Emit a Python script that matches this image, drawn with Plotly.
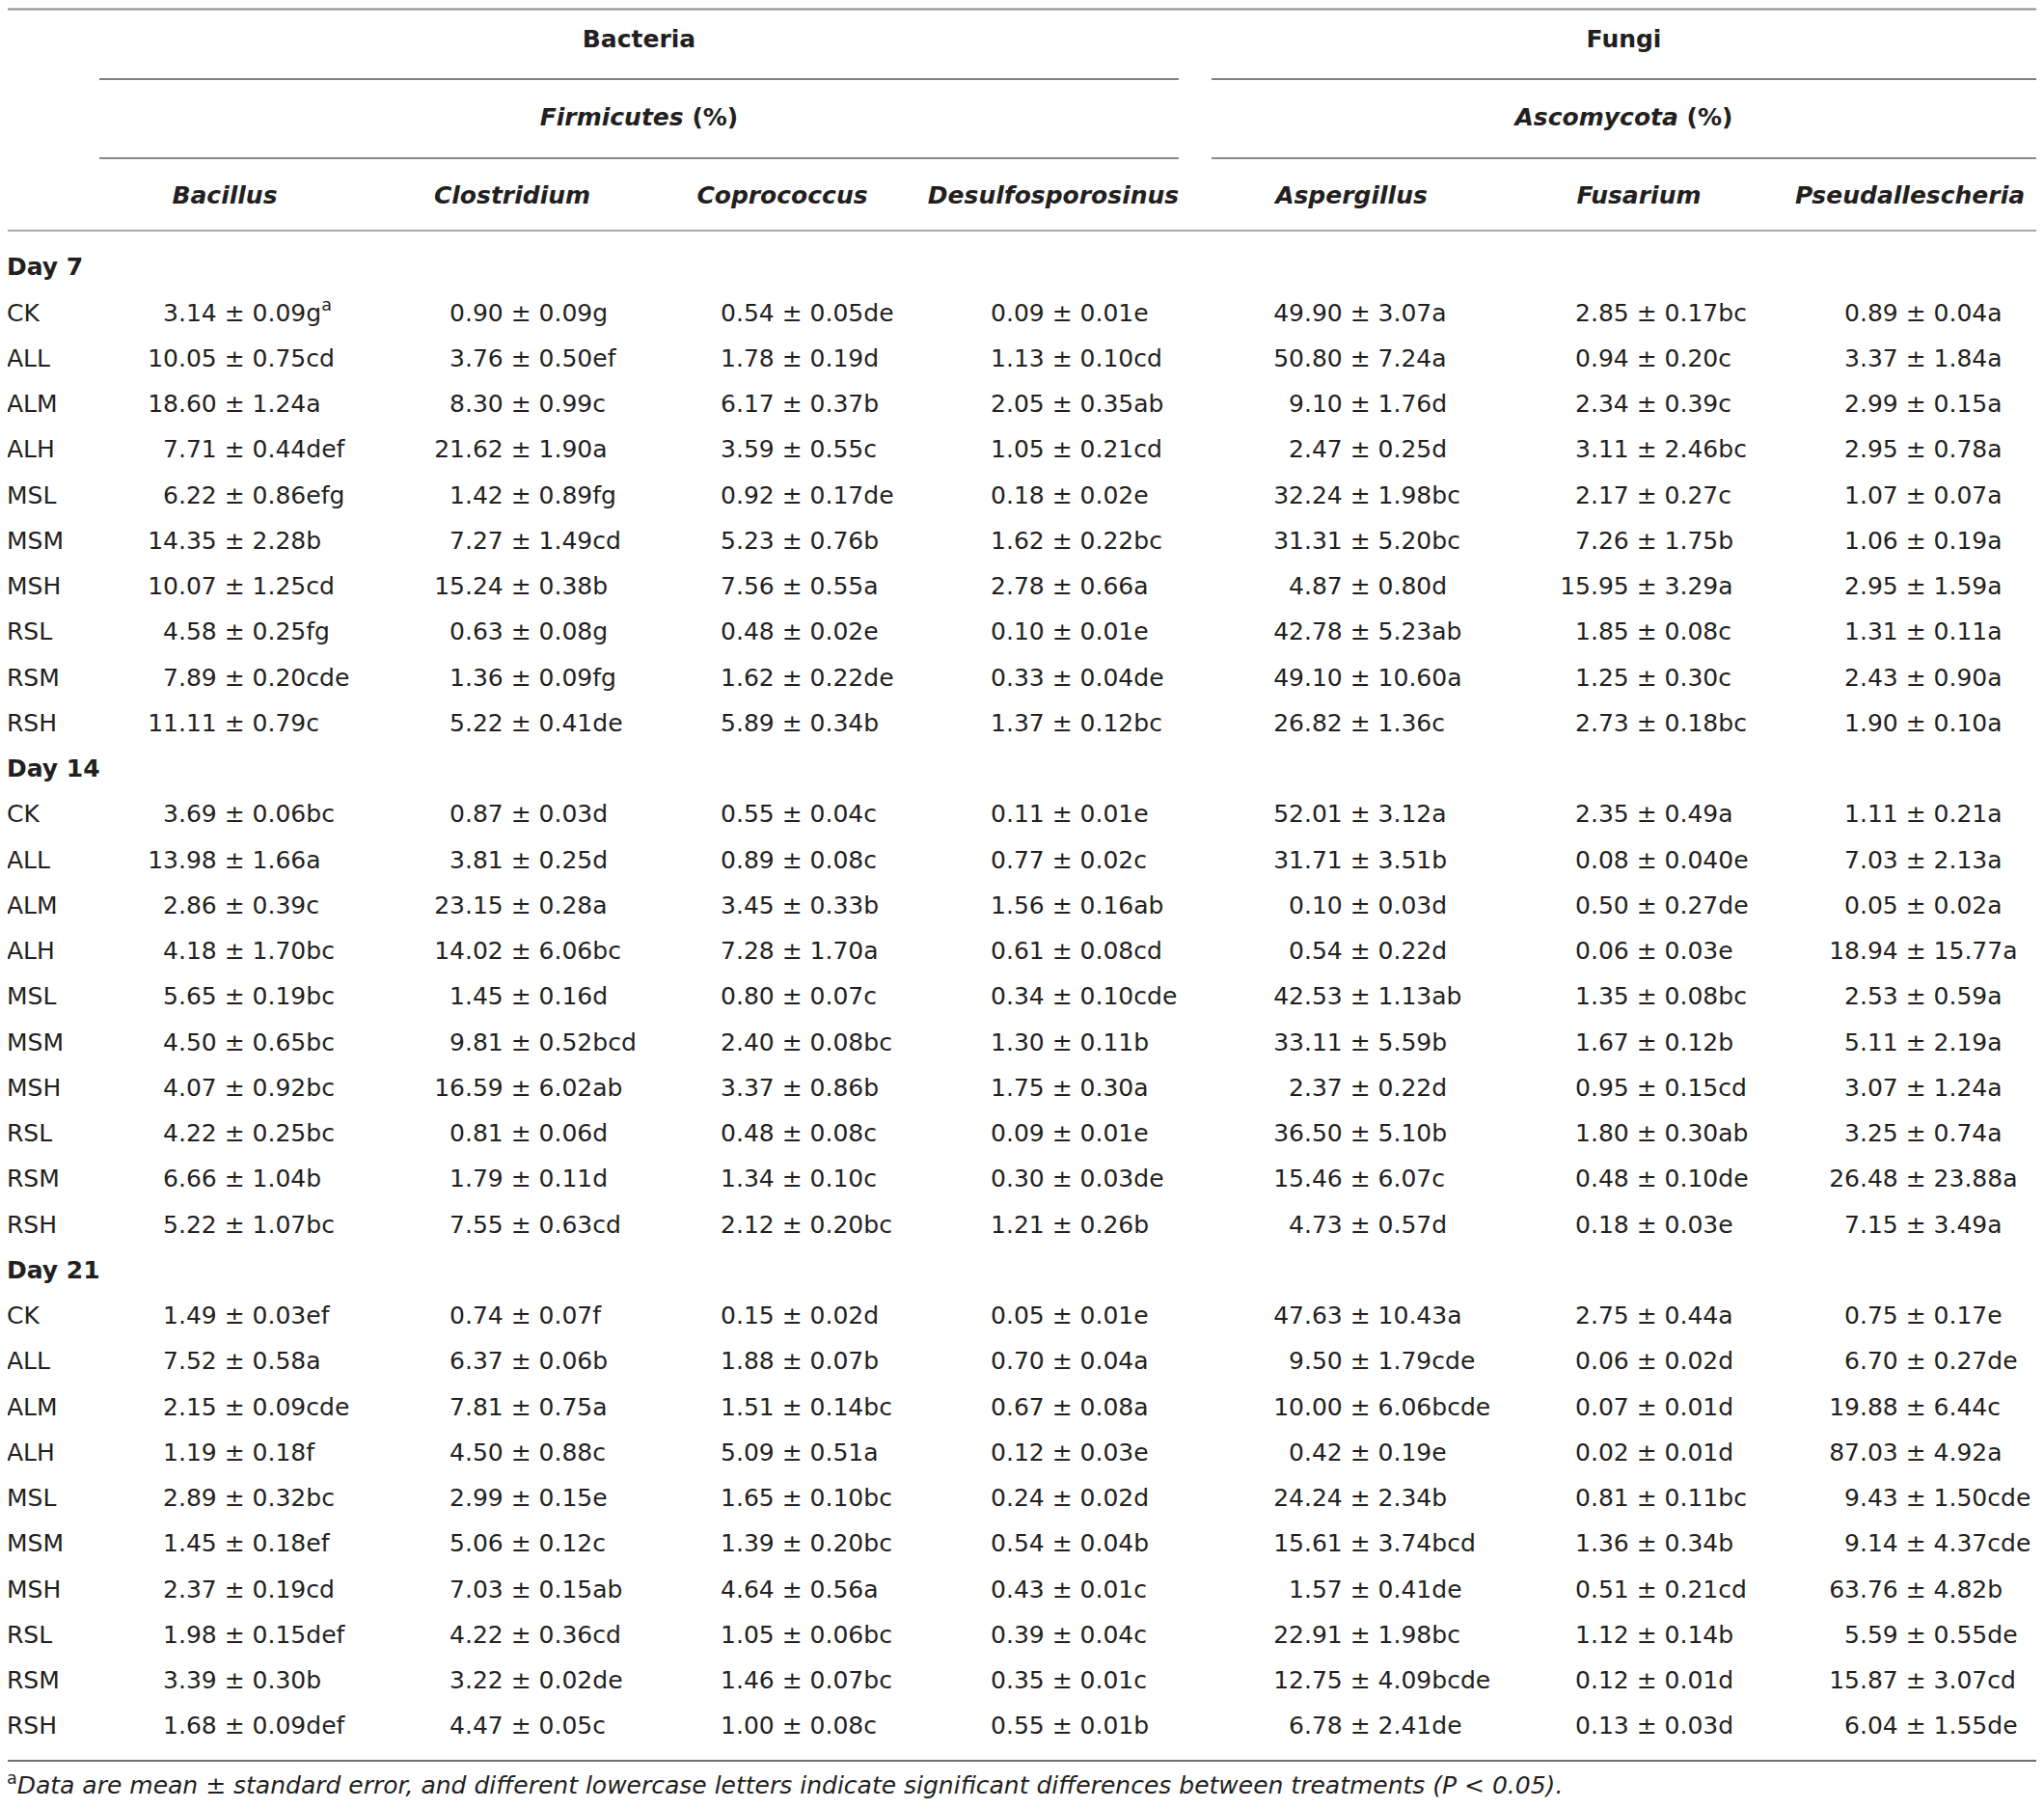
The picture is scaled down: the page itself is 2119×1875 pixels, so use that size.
import plotly.graph_objects as go

TREATMENTS = ["CK", "ALL", "ALM", "ALH", "MSL", "MSM", "MSH", "RSL", "RSM", "RSH"]
DAYS = ["Day 7", "Day 14", "Day 21"]
KINGDOMS = ["Bacteria", "Fungi"]
PHYLA = ["Firmicutes", "Ascomycota"]
GENERA = ["Bacillus", "Clostridium", "Coprococcus", "Desulfosporosinus",
          "Aspergillus", "Fusarium", "Pseudallescheria"]

# (mean, standard error, letters) for Day 7, Day 14, Day 21, ten treatments each
BACILLUS = [
    ("3.14", "0.09", "g"), ("10.05", "0.75", "cd"), ("18.60", "1.24", "a"), ("7.71", "0.44", "def"),
    ("6.22", "0.86", "efg"), ("14.35", "2.28", "b"), ("10.07", "1.25", "cd"), ("4.58", "0.25", "fg"),
    ("7.89", "0.20", "cde"), ("11.11", "0.79", "c"),
    ("3.69", "0.06", "bc"), ("13.98", "1.66", "a"), ("2.86", "0.39", "c"), ("4.18", "1.70", "bc"),
    ("5.65", "0.19", "bc"), ("4.50", "0.65", "bc"), ("4.07", "0.92", "bc"), ("4.22", "0.25", "bc"),
    ("6.66", "1.04", "b"), ("5.22", "1.07", "bc"),
    ("1.49", "0.03", "ef"), ("7.52", "0.58", "a"), ("2.15", "0.09", "cde"), ("1.19", "0.18", "f"),
    ("2.89", "0.32", "bc"), ("1.45", "0.18", "ef"), ("2.37", "0.19", "cd"), ("1.98", "0.15", "def"),
    ("3.39", "0.30", "b"), ("1.68", "0.09", "def"),
]
CLOSTRIDIUM = [
    ("0.90", "0.09", "g"), ("3.76", "0.50", "ef"), ("8.30", "0.99", "c"), ("21.62", "1.90", "a"),
    ("1.42", "0.89", "fg"), ("7.27", "1.49", "cd"), ("15.24", "0.38", "b"), ("0.63", "0.08", "g"),
    ("1.36", "0.09", "fg"), ("5.22", "0.41", "de"),
    ("0.87", "0.03", "d"), ("3.81", "0.25", "d"), ("23.15", "0.28", "a"), ("14.02", "6.06", "bc"),
    ("1.45", "0.16", "d"), ("9.81", "0.52", "bcd"), ("16.59", "6.02", "ab"), ("0.81", "0.06", "d"),
    ("1.79", "0.11", "d"), ("7.55", "0.63", "cd"),
    ("0.74", "0.07", "f"), ("6.37", "0.06", "b"), ("7.81", "0.75", "a"), ("4.50", "0.88", "c"),
    ("2.99", "0.15", "e"), ("5.06", "0.12", "c"), ("7.03", "0.15", "ab"), ("4.22", "0.36", "cd"),
    ("3.22", "0.02", "de"), ("4.47", "0.05", "c"),
]
COPROCOCCUS = [
    ("0.54", "0.05", "de"), ("1.78", "0.19", "d"), ("6.17", "0.37", "b"), ("3.59", "0.55", "c"),
    ("0.92", "0.17", "de"), ("5.23", "0.76", "b"), ("7.56", "0.55", "a"), ("0.48", "0.02", "e"),
    ("1.62", "0.22", "de"), ("5.89", "0.34", "b"),
    ("0.55", "0.04", "c"), ("0.89", "0.08", "c"), ("3.45", "0.33", "b"), ("7.28", "1.70", "a"),
    ("0.80", "0.07", "c"), ("2.40", "0.08", "bc"), ("3.37", "0.86", "b"), ("0.48", "0.08", "c"),
    ("1.34", "0.10", "c"), ("2.12", "0.20", "bc"),
    ("0.15", "0.02", "d"), ("1.88", "0.07", "b"), ("1.51", "0.14", "bc"), ("5.09", "0.51", "a"),
    ("1.65", "0.10", "bc"), ("1.39", "0.20", "bc"), ("4.64", "0.56", "a"), ("1.05", "0.06", "bc"),
    ("1.46", "0.07", "bc"), ("1.00", "0.08", "c"),
]
DESULFOSPOROSINUS = [
    ("0.09", "0.01", "e"), ("1.13", "0.10", "cd"), ("2.05", "0.35", "ab"), ("1.05", "0.21", "cd"),
    ("0.18", "0.02", "e"), ("1.62", "0.22", "bc"), ("2.78", "0.66", "a"), ("0.10", "0.01", "e"),
    ("0.33", "0.04", "de"), ("1.37", "0.12", "bc"),
    ("0.11", "0.01", "e"), ("0.77", "0.02", "c"), ("1.56", "0.16", "ab"), ("0.61", "0.08", "cd"),
    ("0.34", "0.10", "cde"), ("1.30", "0.11", "b"), ("1.75", "0.30", "a"), ("0.09", "0.01", "e"),
    ("0.30", "0.03", "de"), ("1.21", "0.26", "b"),
    ("0.05", "0.01", "e"), ("0.70", "0.04", "a"), ("0.67", "0.08", "a"), ("0.12", "0.03", "e"),
    ("0.24", "0.02", "d"), ("0.54", "0.04", "b"), ("0.43", "0.01", "c"), ("0.39", "0.04", "c"),
    ("0.35", "0.01", "c"), ("0.55", "0.01", "b"),
]
ASPERGILLUS = [
    ("49.90", "3.07", "a"), ("50.80", "7.24", "a"), ("9.10", "1.76", "d"), ("2.47", "0.25", "d"),
    ("32.24", "1.98", "bc"), ("31.31", "5.20", "bc"), ("4.87", "0.80", "d"), ("42.78", "5.23", "ab"),
    ("49.10", "10.60", "a"), ("26.82", "1.36", "c"),
    ("52.01", "3.12", "a"), ("31.71", "3.51", "b"), ("0.10", "0.03", "d"), ("0.54", "0.22", "d"),
    ("42.53", "1.13", "ab"), ("33.11", "5.59", "b"), ("2.37", "0.22", "d"), ("36.50", "5.10", "b"),
    ("15.46", "6.07", "c"), ("4.73", "0.57", "d"),
    ("47.63", "10.43", "a"), ("9.50", "1.79", "cde"), ("10.00", "6.06", "bcde"), ("0.42", "0.19", "e"),
    ("24.24", "2.34", "b"), ("15.61", "3.74", "bcd"), ("1.57", "0.41", "de"), ("22.91", "1.98", "bc"),
    ("12.75", "4.09", "bcde"), ("6.78", "2.41", "de"),
]
FUSARIUM = [
    ("2.85", "0.17", "bc"), ("0.94", "0.20", "c"), ("2.34", "0.39", "c"), ("3.11", "2.46", "bc"),
    ("2.17", "0.27", "c"), ("7.26", "1.75", "b"), ("15.95", "3.29", "a"), ("1.85", "0.08", "c"),
    ("1.25", "0.30", "c"), ("2.73", "0.18", "bc"),
    ("2.35", "0.49", "a"), ("0.08", "0.040", "e"), ("0.50", "0.27", "de"), ("0.06", "0.03", "e"),
    ("1.35", "0.08", "bc"), ("1.67", "0.12", "b"), ("0.95", "0.15", "cd"), ("1.80", "0.30", "ab"),
    ("0.48", "0.10", "de"), ("0.18", "0.03", "e"),
    ("2.75", "0.44", "a"), ("0.06", "0.02", "d"), ("0.07", "0.01", "d"), ("0.02", "0.01", "d"),
    ("0.81", "0.11", "bc"), ("1.36", "0.34", "b"), ("0.51", "0.21", "cd"), ("1.12", "0.14", "b"),
    ("0.12", "0.01", "d"), ("0.13", "0.03", "d"),
]
PSEUDALLESCHERIA = [
    ("0.89", "0.04", "a"), ("3.37", "1.84", "a"), ("2.99", "0.15", "a"), ("2.95", "0.78", "a"),
    ("1.07", "0.07", "a"), ("1.06", "0.19", "a"), ("2.95", "1.59", "a"), ("1.31", "0.11", "a"),
    ("2.43", "0.90", "a"), ("1.90", "0.10", "a"),
    ("1.11", "0.21", "a"), ("7.03", "2.13", "a"), ("0.05", "0.02", "a"), ("18.94", "15.77", "a"),
    ("2.53", "0.59", "a"), ("5.11", "2.19", "a"), ("3.07", "1.24", "a"), ("3.25", "0.74", "a"),
    ("26.48", "23.88", "a"), ("7.15", "3.49", "a"),
    ("0.75", "0.17", "e"), ("6.70", "0.27", "de"), ("19.88", "6.44", "c"), ("87.03", "4.92", "a"),
    ("9.43", "1.50", "cde"), ("9.14", "4.37", "cde"), ("63.76", "4.82", "b"), ("5.59", "0.55", "de"),
    ("15.87", "3.07", "cd"), ("6.04", "1.55", "de"),
]
COLUMNS = [BACILLUS, CLOSTRIDIUM, COPROCOCCUS, DESULFOSPOROSINUS,
           ASPERGILLUS, FUSARIUM, PSEUDALLESCHERIA]

FOOTNOTE = ("Data are mean ± standard error, and different lowercase letters indicate "
            "significant differences between treatments (P &lt; 0.05).")

# page geometry (pixels); OFF compensates the page's body margin
W, H, OFF = 2119, 1875, 8
LEFT, RIGHT = 7, 2111
DEC_X = [185, 482, 763, 1043, 1352, 1649, 1928]   # decimal point of each column
HEAD_X = [233, 531, 811, 1092, 1401, 1699, 1980]  # genus header centres
GROUP_SPANS = [(103, 1222), (1256, 2111)]
Y_KINGDOM, Y_PHYLUM, Y_GENUS = 43, 124, 205
ROW0, ROW_H = 279, 47.25
INK = "#231f20"
FONT = "DejaVu Sans"
FS = 25
BODY = dict(family=FONT, size=FS, color=INK)
HEAD = dict(family=FONT, size=FS, color=INK)

fig = go.Figure()

# row labels: day headers + treatments
row_y, row_txt = [], []
k = 0
for day in DAYS:
    row_y.append(ROW0 + k * ROW_H)
    row_txt.append("<b>%s</b>" % day)
    k += 1
    for t in TREATMENTS:
        row_y.append(ROW0 + k * ROW_H)
        row_txt.append(t)
        k += 1
fig.add_trace(go.Scatter(x=[LEFT] * len(row_y), y=row_y, text=row_txt, mode="text",
                         textposition="middle right", textfont=BODY))

# value cells, split at the decimal point so the columns line up
data_y = []
for d in range(len(DAYS)):
    for t in range(len(TREATMENTS)):
        data_y.append(ROW0 + (d * (len(TREATMENTS) + 1) + 1 + t) * ROW_H)

for c, col in enumerate(COLUMNS):
    ints, rests = [], []
    for i, (m, se, let) in enumerate(col):
        a, b = m.split(".")
        ints.append(a)
        r = ".%s ± %s%s" % (b, se, let)
        if c == 0 and i == 0:
            r += "<sup>a</sup>"
        rests.append(r)
    fig.add_trace(go.Scatter(x=[DEC_X[c]] * len(col), y=data_y, text=ints, mode="text",
                             textposition="middle left", textfont=BODY))
    fig.add_trace(go.Scatter(x=[DEC_X[c]] * len(col), y=data_y, text=rests, mode="text",
                             textposition="middle right", textfont=BODY))

# headers
fig.add_trace(go.Scatter(x=HEAD_X, y=[Y_GENUS] * len(GENERA),
                         text=["<b><i>%s</i></b>" % g for g in GENERA], mode="text",
                         textposition="middle center", textfont=HEAD))
mids = [(a + b) / 2 for a, b in GROUP_SPANS]
fig.add_trace(go.Scatter(x=mids, y=[Y_KINGDOM] * 2, text=["<b>%s</b>" % s for s in KINGDOMS],
                         mode="text", textposition="middle center", textfont=HEAD))
fig.add_trace(go.Scatter(x=mids, y=[Y_PHYLUM] * 2,
                         text=["<b><i>%s</i> (%%)</b>" % s for s in PHYLA],
                         mode="text", textposition="middle center", textfont=HEAD))

# footnote
fig.add_trace(go.Scatter(x=[LEFT], y=[1853], text=["<sup>a</sup><i>%s</i>" % FOOTNOTE],
                         mode="text", textposition="middle right", textfont=BODY))

# rules: (x0, x1, y, colour)
rules = [(LEFT, RIGHT, 9.5, "#8a8a8a"), (LEFT, RIGHT, 239, "#a8a8a8"),
         (LEFT, RIGHT, 1825, "#707070")]
for a, b in GROUP_SPANS:
    rules.append((a, b, 82, "#808080"))
    rules.append((a, b, 164, "#8a8a8a"))
for x0, x1, y, colr in rules:
    fig.add_shape(type="line", xref="x", yref="y", x0=x0, x1=x1, y0=y, y1=y,
                  line=dict(color=colr, width=2))

fig.update_layout(
    width=W - 2 * OFF, height=H - 2 * OFF, margin=dict(l=0, r=0, t=0, b=0),
    paper_bgcolor="white", plot_bgcolor="white",
    showlegend=False, hovermode=False,
    xaxis=dict(range=[OFF, W - OFF], visible=False, fixedrange=True),
    yaxis=dict(range=[H - OFF, OFF], visible=False, fixedrange=True),
)

fig.write_html("out.html")
